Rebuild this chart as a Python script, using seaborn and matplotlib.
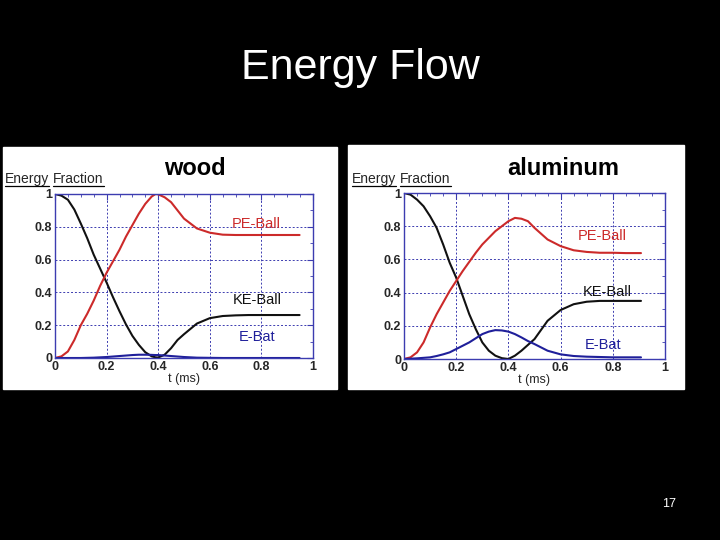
import numpy as np
import pandas as pd
import matplotlib.pyplot as plt
import seaborn as sns
from matplotlib.patches import Rectangle
from matplotlib.ticker import MultipleLocator, AutoMinorLocator, FuncFormatter

# values (energy fraction vs time in ms)
t_wood = [0, .025, .05, .075, .1, .125, .15, .175, .2, .225, .25, .275, .3, .325, .35, .375,
          .39, .4, .425, .45, .475, .5, .55, .6, .65, .7, .75, .8, .85, .9, .948]
ke_wood = [1.0, .99, .965, .905, .82, .73, .63, .545, .46, .37, .285, .205, .135, .08, .035, .01,
           .004, .003, .02, .06, .11, .145, .21, .243, .256, .26, .262, .262, .262, .262, .262]
pe_wood = [0, .01, .04, .11, .2, .27, .35, .44, .52, .59, .66, .74, .81, .88, .94, .985,
           1.0, .998, .98, .95, .9, .85, .79, .764, .752, .75, .75, .75, .75, .75, .75]
bat_wood = [0, 0, 0, 0, 0, .001, .002, .004, .006, .009, .012, .015, .018, .02, .02, .019,
            .018, .018, .015, .012, .009, .006, .002, .001, 0, 0, 0, 0, 0, 0, 0]

t_al = [0, .025, .05, .075, .1, .125, .15, .175, .2, .225, .25, .275, .3, .325, .35, .375,
        .4, .425, .45, .475, .5, .55, .6, .65, .7, .75, .8, .85, .908]
ke_al = [1.0, .99, .96, .92, .86, .79, .69, .58, .49, .38, .27, .18, .1, .05, .02, .005,
         0, .02, .05, .085, .12, .23, .295, .33, .345, .35, .35, .35, .35]
pe_al = [0, .01, .04, .1, .19, .27, .34, .41, .47, .53, .585, .64, .69, .73, .77, .8,
         .83, .85, .845, .83, .79, .72, .68, .655, .645, .64, .64, .638, .638]
bat_al = [0, .002, .004, .007, .01, .018, .028, .04, .06, .08, .1, .125, .15, .165, .174, .172,
          .165, .15, .13, .108, .09, .05, .028, .018, .014, .012, .01, .01, .01]

colors = {"KE-Ball": "#111111", "PE-Ball": "#cc2a2a", "E-Bat": "#1f1f9a"}
blue = "#3c3cb0"

sns.set_style("white")
plt.rcParams["font.family"] = ["Liberation Sans", "DejaVu Sans"]

fig = plt.figure(figsize=(7.2, 5.4), dpi=100, facecolor="black")

# white picture boxes on the black slide
fig.patches.append(Rectangle((3 / 720, 1 - 389 / 540), 334 / 720, 242 / 540,
                             transform=fig.transFigure, facecolor="white", zorder=-5))
fig.patches.append(Rectangle((348 / 720, 1 - 389 / 540), 336 / 720, 244 / 540,
                             transform=fig.transFigure, facecolor="white", zorder=-5))

panels = [
    ("wood", t_wood, ke_wood, pe_wood, bat_wood, [55 / 720, 1 - 358 / 540, 258 / 720, 164 / 540],
     {"PE-Ball": (.687, .816), "KE-Ball": (.69, .355), "E-Bat": (.714, .127)}, 195, 5),
    ("aluminum", t_al, ke_al, pe_al, bat_al, [404 / 720, 1 - 359 / 540, 261 / 720, 166 / 540],
     {"PE-Ball": (.666, .743), "KE-Ball": (.685, .402), "E-Bat": (.694, .085)}, 563, 352),
]

fig.text(0.5, 1 - 68 / 540, "Energy Flow", color="white", fontsize=31, ha="center", va="center")
fig.text(669 / 720, 1 - 504 / 540, "17", color="white", fontsize=9, ha="center", va="center")

captions = []
for name, t, ke, pe, bat, rect, labels, title_x, lab_x in panels:
    ax = fig.add_axes(rect, zorder=2)
    df = pd.DataFrame({
        "t": list(t) * 3,
        "value": list(ke) + list(pe) + list(bat),
        "series": ["KE-Ball"] * len(t) + ["PE-Ball"] * len(t) + ["E-Bat"] * len(t),
    })
    sns.lineplot(data=df, x="t", y="value", hue="series", palette=colors, ax=ax,
                 legend=False, linewidth=1.5, sort=False)
    ax.set_xlim(0, 1)
    ax.set_ylim(0, 1)
    ax.xaxis.set_major_locator(MultipleLocator(0.2))
    ax.yaxis.set_major_locator(MultipleLocator(0.2))
    ax.xaxis.set_minor_locator(AutoMinorLocator(4))
    ax.yaxis.set_minor_locator(AutoMinorLocator(2))
    fmt = FuncFormatter(lambda v, p: "%g" % round(v, 2))
    ax.xaxis.set_major_formatter(fmt)
    ax.yaxis.set_major_formatter(fmt)
    ax.tick_params(which="both", direction="in", top=True, right=True, color=blue,
                   labelsize=9, pad=2)
    ax.tick_params(which="major", length=4)
    ax.tick_params(which="minor", length=2)
    for lab in ax.get_xticklabels() + ax.get_yticklabels():
        lab.set_fontweight("bold")
    ax.grid(True, which="major", color=blue, linestyle=(0, (2, 2)), linewidth=0.7)
    for sp in ax.spines.values():
        sp.set_color(blue)
        sp.set_linewidth(1.0)
    ax.set_xlabel("t (ms)", fontsize=9, labelpad=0)
    ax.set_ylabel("")
    for key, (lx, ly) in labels.items():
        ax.text(lx, ly, key, color=colors[key], fontsize=10.5, ha="left", va="center")
    fig.text(title_x / 720, 1 - 169 / 540, name, color="black", fontsize=17,
             fontweight="bold", ha="center", va="center")
    y_lab = 1 - 183 / 540
    t1 = fig.text(lab_x / 720, y_lab, "Energy", fontsize=10, ha="left", va="baseline")
    captions.append((t1, y_lab))

# underline each word of the axis caption separately
fig.canvas.draw()
renderer = fig.canvas.get_renderer()
for t1, y_lab in captions:
    bb = t1.get_window_extent(renderer)
    t2 = fig.text((bb.x1 + 4) / 720, y_lab, "Fraction", fontsize=10, ha="left", va="baseline")
    bb2 = t2.get_window_extent(renderer)
    for b in (bb, bb2):
        fig.add_artist(plt.Line2D([b.x0 / 720, b.x1 / 720], [y_lab - 2.5 / 540, y_lab - 2.5 / 540],
                                  color="black", linewidth=0.9, transform=fig.transFigure))

fig.savefig("out.png", dpi=100, facecolor="black")
